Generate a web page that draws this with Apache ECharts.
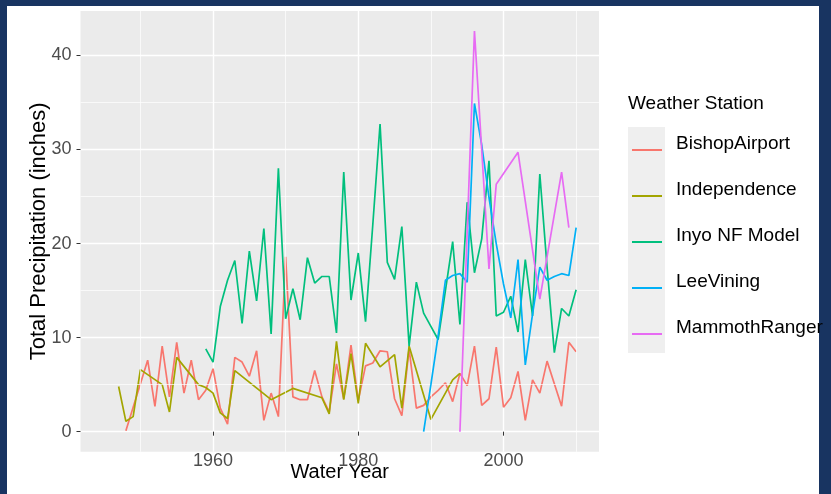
<!DOCTYPE html>
<html>
<head>
<meta charset="utf-8">
<script src="https://cdn.jsdelivr.net/npm/echarts@6/dist/echarts.min.js"></script>
<style>
  html, body { margin: 0; padding: 0; background: #ffffff; }
  #frame { position: absolute; left: 0; top: 0; width: 831px; height: 494px; background: #183461; }
  #sheet { position: absolute; left: 7px; top: 6px; width: 812px; height: 488px; background: #ffffff; }
  #chart { position: absolute; left: 0; top: 0; width: 831px; height: 494px; }
</style>
</head>
<body>
<div id="frame"></div>
<div id="sheet"></div>
<div id="chart"></div>
<script>
// Annual total precipitation (inches) by water year, per weather station.
const stations = ['BishopAirport', 'Independence', 'Inyo NF Model', 'LeeVining', 'MammothRanger'];
const stationColors = ['#F8766D', '#A3A500', '#00BF7D', '#00B0F6', '#E76BF3'];

// BishopAirport: one value per water year from 1948 to 2010
const bishopFirstYear = 1948;
const bishopValues = [
  0.1, 2.6, 5.1, 7.6, 2.7, 9.1, 3.7, 9.5, 4.1, 7.6,
  3.4, 4.4, 6.7, 2.5, 0.8, 7.9, 7.4, 5.9, 8.6, 1.2,
  4.1, 1.6, 18.6, 3.7, 3.4, 3.4, 6.5, 3.7, 2.1, 7.2,
  3.5, 9.2, 3.3, 7.0, 7.3, 8.6, 8.5, 3.5, 1.7, 8.8,
  2.5, 2.8, 3.7, 4.4, 5.2, 3.2, 6.2, 4.9, 9.1, 2.8,
  3.5, 9.0, 2.6, 3.6, 6.4, 1.2, 5.5, 4.1, 7.5, 5.1,
  2.7, 9.5, 8.5
];

// Independence: irregular record
const independenceYears = [1947, 1948, 1949, 1950, 1953, 1954, 1955, 1958, 1959, 1960,
  1961, 1962, 1963, 1968, 1971, 1975, 1976, 1977, 1978, 1979,
  1980, 1981, 1983, 1985, 1986, 1987, 1990, 1993, 1994];
const independenceValues = [4.8, 1.1, 1.6, 6.6, 5.0, 2.1, 7.9, 5.0, 4.7, 4.1,
  2.0, 1.4, 6.5, 3.4, 4.6, 3.6, 1.9, 9.6, 3.4, 8.3,
  3.0, 9.4, 6.9, 8.2, 2.5, 9.1, 1.3, 5.5, 6.2];

// Inyo NF Model: 1959 to 2010
const inyoFirstYear = 1959;
const inyoValues = [
  8.8, 7.4, 13.3, 16.1, 18.2, 11.5, 19.2, 13.9, 21.6, 10.4,
  28.0, 12.0, 15.2, 11.9, 18.5, 15.8, 16.5, 16.5, 10.5, 27.6,
  14.0, 19.0, 11.7, 22.0, 32.7, 18.0, 16.2, 21.8, 9.1, 15.9,
  12.6, 11.2, 9.8, 15.0, 20.2, 11.4, 24.4, 16.9, 20.5, 28.8,
  12.3, 12.7, 14.4, 10.6, 18.3, 12.3, 27.4, 17.5, 8.4, 13.1,
  12.3, 15.1
];

// LeeVining: 1989 to 2010
const leeFirstYear = 1989;
const leeValues = [
  0.0, 5.0, 10.2, 16.1, 16.6, 16.8, 15.9, 34.9, 30.5, 24.9,
  20.0, 15.7, 12.1, 18.3, 7.1, 12.5, 17.5, 16.1, 16.5, 16.8,
  16.6, 21.7
];

// MammothRanger: sparse record
const mammothYears = [1994, 1996, 1998, 1999, 2002, 2005, 2008, 2009];
const mammothValues = [0.0, 42.6, 17.3, 26.3, 29.7, 14.1, 27.6, 21.7];

// Axis ticks and grid positions
const xMajorTicks = [1960, 1980, 2000];
const xMinorTicks = [1950, 1970, 1990, 2010];
const yMajorTicks = [0, 10, 20, 30, 40];
const yMinorTicks = [5, 15, 25, 35];

function consecutive(firstYear, values) {
  return values.map((v, i) => [firstYear + i, v]);
}
function paired(years, values) {
  return years.map((y, i) => [y, values[i]]);
}

const seriesData = [
  consecutive(bishopFirstYear, bishopValues),
  paired(independenceYears, independenceValues),
  consecutive(inyoFirstYear, inyoValues),
  consecutive(leeFirstYear, leeValues),
  paired(mammothYears, mammothValues)
];

const FONT = '"Liberation Sans", Arial, Helvetica, sans-serif';

// Legend key: a short horizontal stroke sitting in the lower part of the key box
const KEY_ICON = 'path://M0,0 M0,12 L30,12 L30,14 L0,14 Z';

const chart = echarts.init(document.getElementById('chart'), null, { renderer: 'canvas' });

const minorGridLines = xMinorTicks.map(x => ({ xAxis: x }))
  .concat(yMinorTicks.map(y => ({ yAxis: y })));

const lineSeries = stations.map((name, i) => ({
  name: name,
  type: 'line',
  data: seriesData[i],
  showSymbol: false,
  symbol: 'none',
  color: stationColors[i],
  lineStyle: { width: 1.7, color: stationColors[i] },
  z: 3 + i
}));

chart.setOption({
  animation: false,
  backgroundColor: 'transparent',
  textStyle: { fontFamily: FONT },
  title: {
    text: 'Weather Station',
    left: 628,
    top: 94,
    padding: 0,
    textStyle: { fontFamily: FONT, fontSize: 19, fontWeight: 'normal', color: '#000000' }
  },
  graphic: [{
    type: 'rect',
    left: 628,
    top: 127,
    shape: { width: 37, height: 226 },
    style: { fill: '#efefef' },
    silent: true,
    z: -1
  }],
  legend: {
    orient: 'vertical',
    left: 632,
    top: 134,
    padding: 0,
    itemWidth: 30,
    itemHeight: 14,
    itemGap: 26,
    icon: KEY_ICON,
    data: stations,
    textStyle: { fontFamily: FONT, fontSize: 19, color: '#000000', lineHeight: 20, padding: [0, 0, 0, 9] }
  },
  grid: {
    left: 80.5,
    right: 232,
    top: 11,
    bottom: 42.3,
    show: true,
    backgroundColor: '#ebebeb',
    borderWidth: 0,
    containLabel: false,
    outerBoundsMode: 'none'
  },
  xAxis: {
    type: 'value',
    min: 1941.75,
    max: 2013.15,
    name: 'Water Year',
    nameLocation: 'middle',
    nameGap: 11,
    nameMoveOverlap: false,
    nameTextStyle: { fontFamily: FONT, fontSize: 20, color: '#000000' },
    axisLine: { show: false },
    axisTick: { show: true, length: 4, lineStyle: { color: '#333333', width: 1 }, customValues: xMajorTicks },
    axisLabel: {
      customValues: xMajorTicks, color: '#4d4d4d', fontSize: 18, fontFamily: FONT, margin: 0,
      formatter: v => String(v)
    },
    splitLine: { show: true, lineStyle: { color: '#ffffff', width: 1.4 } }
  },
  yAxis: {
    type: 'value',
    min: -2.13,
    max: 44.73,
    name: 'Total Precipitation (inches)',
    nameLocation: 'middle',
    nameGap: 31,
    nameMoveOverlap: false,
    nameTextStyle: { fontFamily: FONT, fontSize: 22, color: '#000000' },
    axisLine: { show: false },
    axisTick: { show: true, length: 4, lineStyle: { color: '#333333', width: 1 }, customValues: yMajorTicks },
    axisLabel: { customValues: yMajorTicks, color: '#4d4d4d', fontSize: 18, fontFamily: FONT, margin: 9 },
    splitLine: { show: true, lineStyle: { color: '#ffffff', width: 1.4 } }
  },
  series: [{
    name: 'minor-grid',
    type: 'line',
    data: [],
    silent: true,
    z: 1,
    markLine: {
      silent: true,
      symbol: 'none',
      animation: false,
      label: { show: false },
      lineStyle: { color: '#ffffff', width: 0.7, type: 'solid' },
      emphasis: { disabled: true },
      data: minorGridLines
    }
  }].concat(lineSeries)
});
</script>
</body>
</html>
